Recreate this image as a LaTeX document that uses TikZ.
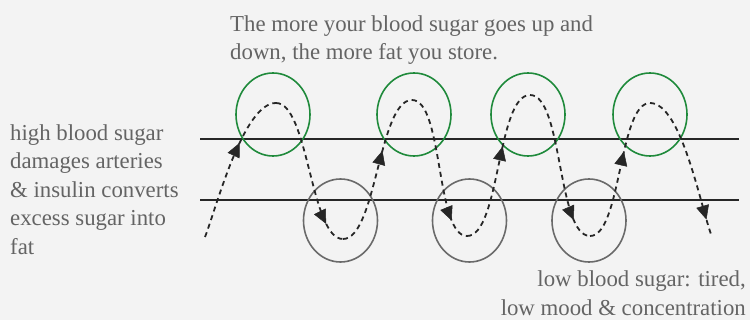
\documentclass[tikz,border=0pt]{standalone}
\usepackage{fontspec}
\setmainfont{Liberation Serif}
\usetikzlibrary{arrows.meta,positioning,shapes.geometric,decorations.markings}
\definecolor{bg}{HTML}{F3F3F3}
\definecolor{txtgrey}{HTML}{646464}
\definecolor{hgreen}{HTML}{1F8A3B}
\definecolor{lgrey}{HTML}{6A6A6A}
\definecolor{lvlblack}{HTML}{262626}
\tikzset{
  txt/.style={text=txtgrey, font=\fontsize{22.8}{28.5}\selectfont, inner sep=0pt},
  hump/.style={draw=hgreen, ellipse, line width=1.6pt, minimum width=74pt, minimum height=83pt, inner sep=0pt},
  dip/.style={draw=lgrey, ellipse, line width=1.6pt, minimum width=74pt, minimum height=83pt, inner sep=0pt},
  lvl/.style={draw=lvlblack, line width=2pt},
  wave/.style={draw=lvlblack, line width=1.8pt, dash pattern=on 5pt off 4pt, looseness=0.55},
  arrmark/.style={decoration={markings, mark=at position #1 with {\arrow[line width=0.5pt]{Triangle[length=14pt,width=13pt]}}}, postaction={decorate}},
}

\begin{document}
\begin{tikzpicture}[x=1pt, y=-1pt]

\fill[bg] (0,0) rectangle (750,320);
\useasboundingbox (0,0) rectangle (750,320);

\node[txt, align=left, anchor=north west] (topnote) at (230,15.1)
  {The more your blood sugar goes up and\\down, the more fat you store.};
\node[txt, align=left, anchor=north west] (highnote) at (10,124.4)
  {high blood sugar\\damages arteries\\\& insulin converts\\excess sugar into\\fat};
\node[txt, align=right, anchor=north east] (lownote) at (746,270.5)
  {low blood sugar: tired,\\low mood \& concentration};

\coordinate (hiL) at (200,139);
\coordinate (hiR) at (739,139);
\coordinate (loL) at (200,200);
\coordinate (loR) at (739,200);
\draw[lvl] (hiL) -- (hiR);
\draw[lvl] (loL) -- (loR);

\node[hump] (hump1) at (273,114.5) {};
\node[hump] (hump2) at (414,114.5) {};
\node[hump] (hump3) at (528,114.5) {};
\node[hump] (hump4) at (650,114.5) {};
\node[dip] (dip1) at (340.5,220.5) {};
\node[dip] (dip2) at (469.5,220.5) {};
\node[dip] (dip3) at (589,220.5) {};

\coordinate (start) at (205,237);
\coordinate (top1) at (276,103);
\coordinate (bot1) at (343,239);
\coordinate (top2) at (412,100);
\coordinate (bot2) at (467,236);
\coordinate (top3) at (530,95);
\coordinate (bot3) at (590,236);
\coordinate (top4) at (650,103);
\coordinate (finish) at (712,237);

\draw[wave, arrmark=0.64] (start) to[out=69, in=180] (top1);
\draw[wave, arrmark=0.85] (top1) to[out=0, in=180] (bot1);
\draw[wave, arrmark=0.62] (bot1) to[out=0, in=180] (top2);
\draw[wave, arrmark=0.85] (top2) to[out=0, in=180] (bot2);
\draw[wave, arrmark=0.62] (bot2) to[out=0, in=180] (top3);
\draw[wave, arrmark=0.85] (top3) to[out=0, in=180] (bot3);
\draw[wave, arrmark=0.62] (bot3) to[out=0, in=180] (top4);
\draw[wave, arrmark=0.88] (top4) to[out=0, in=111] (finish);

\end{tikzpicture}
\end{document}
